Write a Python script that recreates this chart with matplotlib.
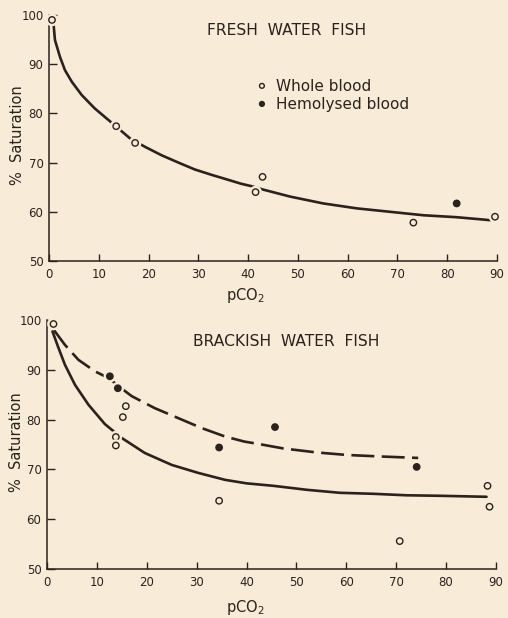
import matplotlib
matplotlib.use("Agg")
import matplotlib.pyplot as plt
import matplotlib.patheffects as pe

# Fresh water fish: whole blood / hemolysed points and fitted curve
fresh_whole_x = [0.6, 13.5, 17.3, 41.5, 42.9, 73.2, 89.6]
fresh_whole_y = [99.0, 77.4, 74.0, 64.0, 67.1, 57.8, 59.0]
fresh_hemo_x = [81.9]
fresh_hemo_y = [61.7]
fresh_curve_x = [0.9, 1.2, 2.2, 3.2, 4.6, 6.6, 9.2, 12.6, 16.3, 19.3, 22.6, 26.0, 29.3,
                 32.7, 36.0, 38.6, 40.7, 42.7, 48.4, 55.1, 61.8, 68.5, 75.2, 81.9, 88.6]
fresh_curve_y = [98.3, 94.9, 91.5, 88.8, 86.4, 83.7, 81.0, 78.1, 74.9, 73.2, 71.5, 70.0,
                 68.6, 67.5, 66.5, 65.7, 65.2, 64.6, 63.1, 61.7, 60.7, 60.0, 59.3, 58.9,
                 58.3]

# Brackish water fish
brack_whole_x = [1.3, 15.8, 15.2, 13.8, 13.8, 34.5, 70.7, 88.3, 88.7]
brack_whole_y = [99.2, 82.7, 80.5, 76.5, 74.8, 63.7, 55.6, 66.7, 62.5]
brack_hemo_x = [12.6, 14.2, 34.5, 45.7, 74.1]
brack_hemo_y = [88.7, 86.3, 74.4, 78.5, 70.5]
brack_whole_curve_x = [1.1, 2.3, 3.6, 5.6, 8.3, 11.6, 15.0, 19.6, 25.0, 30.3, 35.7, 40.0,
                       45.4, 52.1, 58.7, 65.4, 72.1, 78.8, 88.1]
brack_whole_curve_y = [97.7, 94.4, 91.0, 87.0, 83.0, 79.1, 76.3, 73.3, 70.9, 69.3, 67.9,
                       67.2, 66.7, 65.9, 65.3, 65.1, 64.8, 64.7, 64.5]
brack_hemo_curve_x = [1.3, 3.6, 6.3, 9.6, 12.6, 14.2, 17.0, 21.6, 26.3, 31.0, 35.7, 39.5,
                      43.0, 47.4, 54.1, 60.1, 66.7, 74.4]
brack_hemo_curve_y = [98.1, 95.0, 92.0, 89.7, 88.2, 86.8, 84.7, 82.3, 80.3, 78.3, 76.6,
                      75.6, 75.0, 74.2, 73.4, 72.9, 72.6, 72.3]

x_ticks = [0, 10, 20, 30, 40, 50, 60, 70, 80, 90]
y_ticks = [50, 60, 70, 80, 90, 100]

bg = "#f8ebd7"
ink = "#2b221d"

plt.rcParams["font.family"] = ["DejaVu Sans"]

fig = plt.figure(figsize=(5.08, 6.18), dpi=100, facecolor=bg)
ax1 = fig.add_axes([49 / 508, 1 - 261 / 618, 448 / 508, 246 / 618])
ax2 = fig.add_axes([47 / 508, 1 - 569 / 618, 449 / 508, 249 / 618])

halo = [pe.withStroke(linewidth=4.5, foreground=bg)]


def style_axes(ax):
    ax.set_facecolor(bg)
    ax.set_xlim(0, 90)
    ax.set_ylim(50, 100)
    ax.set_xticks(x_ticks)
    ax.set_yticks(y_ticks)
    for s in ["top", "right"]:
        ax.spines[s].set_visible(False)
    for s in ["left", "bottom"]:
        ax.spines[s].set_color(ink)
        ax.spines[s].set_linewidth(1.1)
    ax.tick_params(axis="y", direction="in", length=6, width=1, colors=ink,
                   labelsize=8.5, pad=4)
    ax.tick_params(axis="x", direction="in", length=5, width=1, colors=ink,
                   labelsize=8.5, pad=5)


def scatter_points(ax, wx, wy, hx, hy):
    ax.plot(wx, wy, "o", ms=4.6, mfc=bg, mec=ink, mew=1.0, ls="none",
            zorder=4, clip_on=False, path_effects=halo, label="Whole blood")
    ax.plot(hx, hy, "o", ms=4.6, mfc=ink, mec=ink, mew=1.0, ls="none",
            zorder=4, clip_on=False, path_effects=halo, label="Hemolysed blood")


# Top panel
style_axes(ax1)
ax1.plot(fresh_curve_x, fresh_curve_y, color=ink, lw=1.9, zorder=2,
         solid_capstyle="round", solid_joinstyle="round")
scatter_points(ax1, fresh_whole_x, fresh_whole_y, fresh_hemo_x, fresh_hemo_y)
ax1.text(0.531, 0.935, "FRESH  WATER  FISH", transform=ax1.transAxes,
         ha="center", va="center", fontsize=11.2, color=ink)
leg = ax1.legend(loc="upper left", bbox_to_anchor=(0.448, 0.77), frameon=False,
                 fontsize=11, handlelength=0.6, handletextpad=0.6,
                 labelspacing=0.2, borderpad=0, markerscale=0.75)
for t in leg.get_texts():
    t.set_color(ink)
ax1.set_ylabel("%  Saturation", fontsize=10.5, color=ink, va="center")
ax1.yaxis.set_label_coords(-0.071, 0.51)
ax1.set_xlabel("pCO$_2$", fontsize=10.5, color=ink)
ax1.xaxis.set_label_coords(0.4375, -0.10)

# Bottom panel
style_axes(ax2)
ax2.plot(brack_whole_curve_x, brack_whole_curve_y, color=ink, lw=1.9, zorder=2,
         solid_capstyle="round", solid_joinstyle="round")
ax2.plot(brack_hemo_curve_x, brack_hemo_curve_y, color=ink, lw=1.9, zorder=2,
         dashes=(8.7, 2.8))
scatter_points(ax2, brack_whole_x, brack_whole_y, brack_hemo_x, brack_hemo_y)
ax2.text(0.532, 0.912, "BRACKISH  WATER  FISH", transform=ax2.transAxes,
         ha="center", va="center", fontsize=11.2, color=ink)
ax2.set_ylabel("%  Saturation", fontsize=10.5, color=ink, va="center")
ax2.yaxis.set_label_coords(-0.067, 0.51)
ax2.set_xlabel("pCO$_2$", fontsize=10.5, color=ink)
ax2.xaxis.set_label_coords(0.441, -0.116)

fig.savefig("out.png", dpi=100, facecolor=bg)
